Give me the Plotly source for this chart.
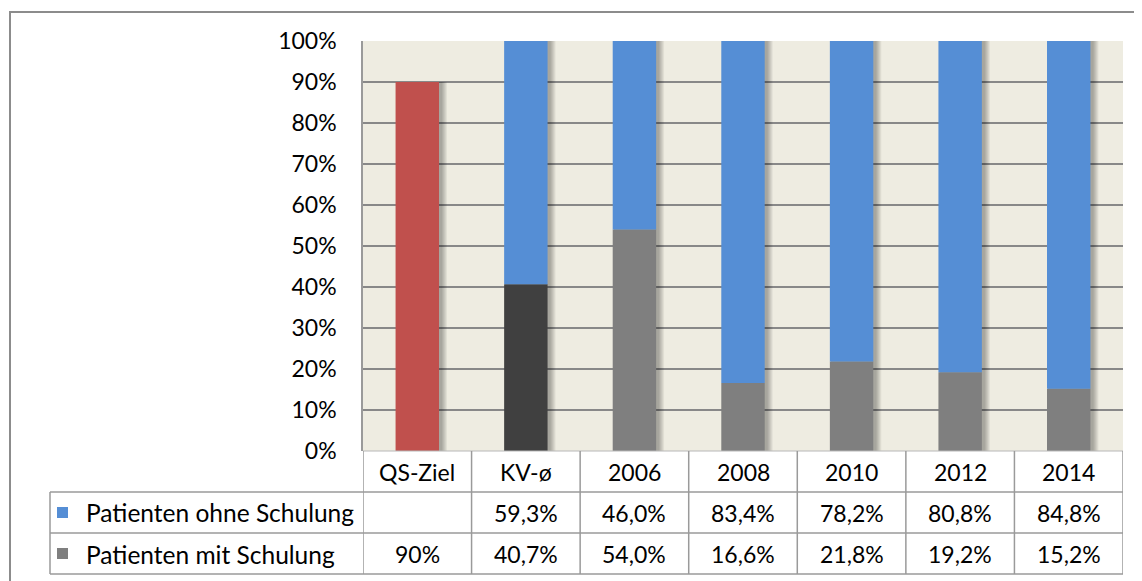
import plotly.graph_objects as go

categories = ['QS-Ziel', 'KV-ø', '2006', '2008', '2010', '2012', '2014']
mit_schulung = [90.0, 40.7, 54.0, 16.6, 21.8, 19.2, 15.2]
ohne_schulung = [None, 59.3, 46.0, 83.4, 78.2, 80.8, 84.8]
series_names = ['Patienten ohne Schulung', 'Patienten mit Schulung']

blue = '#558ED5'
gray = '#7F7F7F'
mit_colors = ['#C0504D', '#404040'] + [gray] * 5

W, H = 1142, 581
OFF = 8                                # page body margin
PL, PR, PT, PB = 363, 1123, 41, 451   # plot area in page pixels
FONT = 'Lato'
FS = 23
LINE = '#9A9A9A'


def px(x):
    return (x - PL) / (PR - PL)


def py(y):
    return (PB - y) / (PB - PT)


def fmt(v, whole=False):
    if v is None:
        return ''
    s = f'{v:.0f}' if whole else f'{v:.1f}'
    return s.replace('.', ',') + '%'


totals = [m + (o or 0) for m, o in zip(mit_schulung, ohne_schulung)]
unit = len(categories) / (PR - PL)   # one pixel in category units

fig = go.Figure()

# soft drop shadow to the right of each bar
for k in range(1, 7):
    fig.add_trace(go.Bar(
        x=categories, y=totals, width=0.4 + (k + 1) * unit,
        offset=-0.2 + unit, marker_color='rgba(0,0,0,0.055)',
        marker_line_width=0, showlegend=False, hoverinfo='skip'))

fig.add_trace(go.Bar(
    x=categories, y=mit_schulung, width=0.4, name=series_names[1],
    marker_color=mit_colors, marker_line_width=0))
fig.add_trace(go.Bar(
    x=categories, y=ohne_schulung, base=mit_schulung, width=0.4,
    name=series_names[0], marker_color=blue, marker_line_width=0))

shapes = []
# outer chart frame
shapes.append(dict(type='rect', xref='paper', yref='paper',
                   x0=px(10), x1=px(1160), y0=py(12), y1=py(600),
                   line=dict(color='#8C8C8C', width=2)))
# data table grid
for y in [492, 533, 574]:
    shapes.append(dict(type='line', xref='paper', yref='paper',
                       x0=px(50), x1=1, y0=py(y), y1=py(y),
                       line=dict(color=LINE, width=1.5)))
shapes.append(dict(type='line', xref='paper', yref='paper',
                   x0=0, x1=1, y0=0, y1=0, line=dict(color='#B8B8B8', width=1)))
for i in range(len(categories) + 1):
    shapes.append(dict(type='line', xref='x', yref='paper',
                       x0=i - 0.5, x1=i - 0.5, y0=py(PB), y1=py(574),
                       line=dict(color=LINE, width=1.5)))
shapes.append(dict(type='line', xref='paper', yref='paper',
                   x0=px(50), x1=px(50), y0=py(492), y1=py(574),
                   line=dict(color=LINE, width=1.5)))
# legend keys
for (y0, y1), c in zip([(507, 518), (548, 559)], [blue, gray]):
    shapes.append(dict(type='rect', xref='paper', yref='paper',
                       x0=px(57), x1=px(68), y0=py(y0), y1=py(y1),
                       fillcolor=c, line_width=0))

ann = []
font = dict(family=FONT, size=FS, color='#000000')
for i, c in enumerate(categories):
    ann.append(dict(x=i, y=py(472), xref='x', yref='paper', text=c,
                    yanchor='middle', showarrow=False, font=font))
    ann.append(dict(x=i, y=py(513), xref='x', yref='paper',
                    text=fmt(ohne_schulung[i]), yanchor='middle',
                    showarrow=False, font=font))
    ann.append(dict(x=i, y=py(554), xref='x', yref='paper',
                    text=fmt(mit_schulung[i], whole=(i == 0)),
                    yanchor='middle', showarrow=False, font=font))
for name, y in zip(series_names, [513, 554]):
    ann.append(dict(x=px(84), y=py(y), xref='paper', yref='paper', text=name,
                    xanchor='left', yanchor='middle', showarrow=False,
                    font=dict(family=FONT, size=24.5, color='#000000')))

fig.update_layout(
    width=W - OFF, height=H - OFF,
    margin=dict(l=PL - OFF, r=W - PR, t=PT - OFF, b=H - PB, pad=0),
    barmode='overlay',
    paper_bgcolor='white', plot_bgcolor='#EEECE1',
    showlegend=False,
    font=dict(family=FONT, size=FS, color='#000000'),
    xaxis=dict(type='category', range=[-0.5, len(categories) - 0.5],
               showticklabels=False, showgrid=False, zeroline=False,
               fixedrange=True),
    yaxis=dict(range=[0, 100], dtick=10, ticksuffix='%', showgrid=True,
               gridcolor='#888888', gridwidth=1.5, zeroline=False,
               showline=True, linecolor='#9A9A9A', linewidth=1.5,
               ticklabelstandoff=20, tickfont=dict(size=FS, color='#000000')),
    shapes=shapes, annotations=ann,
)

fig.write_html('out.html')
